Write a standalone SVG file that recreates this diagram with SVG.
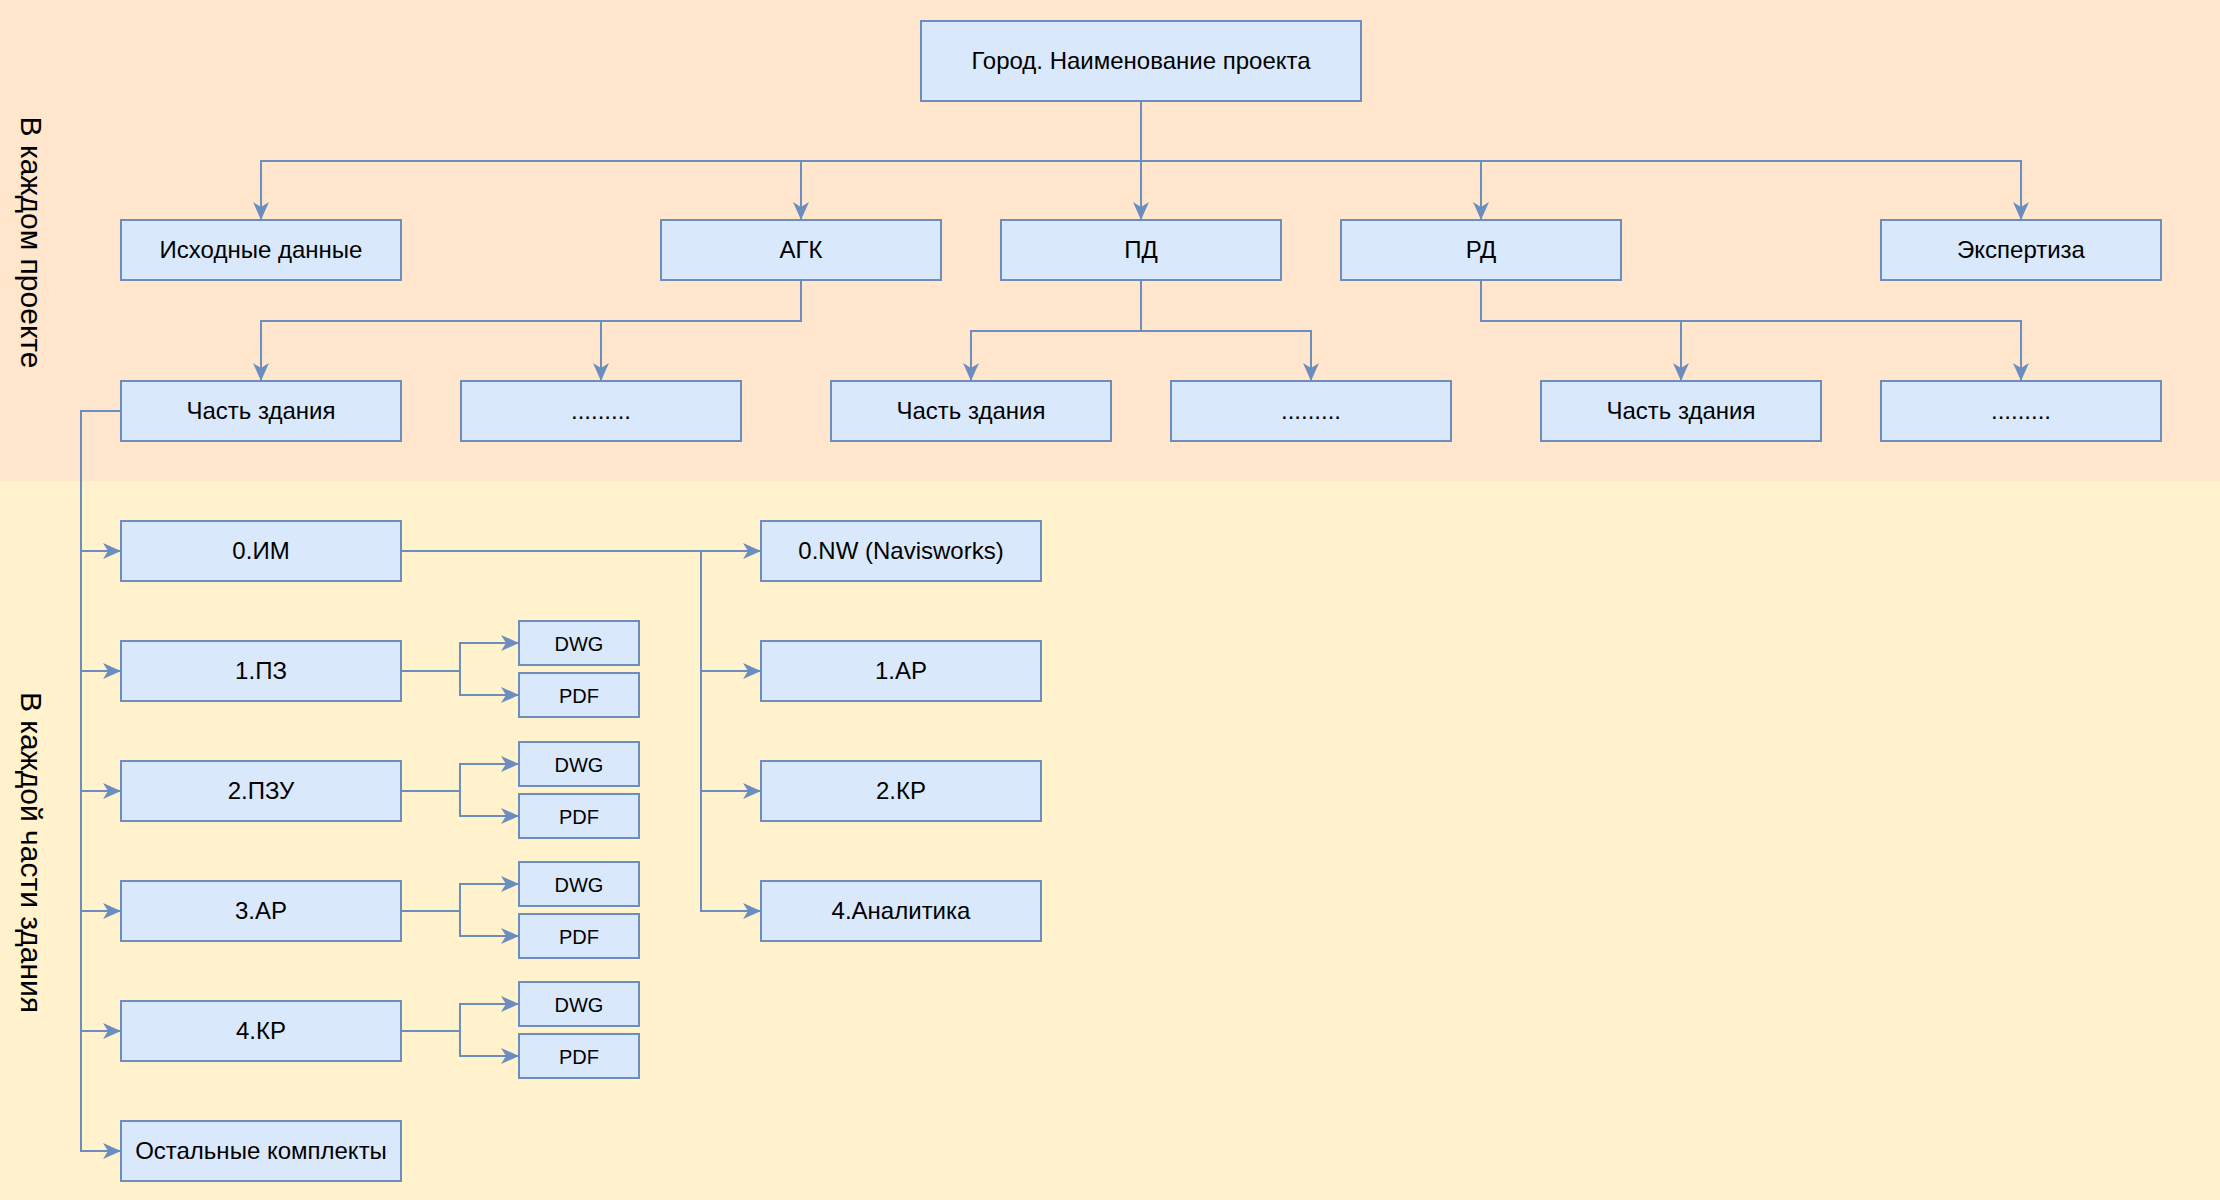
<svg xmlns="http://www.w3.org/2000/svg" width="2220" height="1200" viewBox="0 0 2220 1200">
<style>
.box{fill:#DAE8FC;stroke:#6C8EBF;stroke-width:2}
.t{font-family:"Liberation Sans",Arial,sans-serif;font-size:24px;fill:#000;text-anchor:middle}
.s{font-family:"Liberation Sans",Arial,sans-serif;font-size:20px;fill:#000;text-anchor:middle}
.v{font-family:"Liberation Sans",Arial,sans-serif;font-size:30px;fill:#000;text-anchor:middle}
.c{fill:none;stroke:#6C8EBF;stroke-width:2;marker-end:url(#arr)}
</style>
<defs>
<marker id="arr" markerUnits="userSpaceOnUse" markerWidth="22" markerHeight="20" viewBox="-20 -10 22 20" refX="0" refY="0" orient="auto" overflow="visible">
<path d="M1,0 L-17,-8 L-12,0 L-17,8 Z" fill="#6C8EBF"/>
</marker>
</defs>
<g id="background">
<rect x="0" y="0" width="2220" height="481" fill="#FFE6CC"/>
<rect x="0" y="481" width="2220" height="719" fill="#FFF2CC"/>
<text class="v" transform="translate(21,242.5) rotate(90)">В каждом проекте</text>
<text class="v" transform="translate(21,852.5) rotate(90)">В каждой части здания</text>
</g>
<g id="connectors">
<path class="c" d="M1141,101 V161 H261 V219"/>
<path class="c" d="M1141,101 V161 H801 V219"/>
<path class="c" d="M1141,101 V219"/>
<path class="c" d="M1141,101 V161 H1481 V219"/>
<path class="c" d="M1141,101 V161 H2021 V219"/>
<path class="c" d="M801,281 V321 H261 V380"/>
<path class="c" d="M801,281 V321 H601 V380"/>
<path class="c" d="M1141,281 V331 H971 V380"/>
<path class="c" d="M1141,281 V331 H1311 V380"/>
<path class="c" d="M1481,281 V321 H1681 V380"/>
<path class="c" d="M1481,281 V321 H2021 V380"/>
<path class="c" d="M121,411 H81 V551 H120"/>
<path class="c" d="M121,411 H81 V671 H120"/>
<path class="c" d="M121,411 H81 V791 H120"/>
<path class="c" d="M121,411 H81 V911 H120"/>
<path class="c" d="M121,411 H81 V1031 H120"/>
<path class="c" d="M121,411 H81 V1151 H120"/>
<path class="c" d="M401,551 H760"/>
<path class="c" d="M401,551 H701 V671 H760"/>
<path class="c" d="M401,551 H701 V791 H760"/>
<path class="c" d="M401,551 H701 V911 H760"/>
<path class="c" d="M401,671 H460 V643 H518"/>
<path class="c" d="M401,671 H460 V695 H518"/>
<path class="c" d="M401,791 H460 V764 H518"/>
<path class="c" d="M401,791 H460 V816 H518"/>
<path class="c" d="M401,911 H460 V884 H518"/>
<path class="c" d="M401,911 H460 V936 H518"/>
<path class="c" d="M401,1031 H460 V1004 H518"/>
<path class="c" d="M401,1031 H460 V1056 H518"/>
</g>
<g id="n_root"><rect class="box" x="921" y="21" width="440" height="80"/><text class="t" x="1141" y="69">Город. Наименование проекта</text></g>
<g id="n_ish"><rect class="box" x="121" y="220" width="280" height="60"/><text class="t" x="261" y="258">Исходные данные</text></g>
<g id="n_agk"><rect class="box" x="661" y="220" width="280" height="60"/><text class="t" x="801" y="258">АГК</text></g>
<g id="n_pd"><rect class="box" x="1001" y="220" width="280" height="60"/><text class="t" x="1141" y="258">ПД</text></g>
<g id="n_rd"><rect class="box" x="1341" y="220" width="280" height="60"/><text class="t" x="1481" y="258">РД</text></g>
<g id="n_exp"><rect class="box" x="1881" y="220" width="280" height="60"/><text class="t" x="2021" y="258">Экспертиза</text></g>
<g id="n_agk_part"><rect class="box" x="121" y="381" width="280" height="60"/><text class="t" x="261" y="419">Часть здания</text></g>
<g id="n_agk_more"><rect class="box" x="461" y="381" width="280" height="60"/><text class="t" x="601" y="419">.........</text></g>
<g id="n_pd_part"><rect class="box" x="831" y="381" width="280" height="60"/><text class="t" x="971" y="419">Часть здания</text></g>
<g id="n_pd_more"><rect class="box" x="1171" y="381" width="280" height="60"/><text class="t" x="1311" y="419">.........</text></g>
<g id="n_rd_part"><rect class="box" x="1541" y="381" width="280" height="60"/><text class="t" x="1681" y="419">Часть здания</text></g>
<g id="n_rd_more"><rect class="box" x="1881" y="381" width="280" height="60"/><text class="t" x="2021" y="419">.........</text></g>
<g id="n_im"><rect class="box" x="121" y="521" width="280" height="60"/><text class="t" x="261" y="559">0.ИМ</text></g>
<g id="n_pz"><rect class="box" x="121" y="641" width="280" height="60"/><text class="t" x="261" y="679">1.ПЗ</text></g>
<g id="n_pzu"><rect class="box" x="121" y="761" width="280" height="60"/><text class="t" x="261" y="799">2.ПЗУ</text></g>
<g id="n_ar3"><rect class="box" x="121" y="881" width="280" height="60"/><text class="t" x="261" y="919">3.АР</text></g>
<g id="n_kr4"><rect class="box" x="121" y="1001" width="280" height="60"/><text class="t" x="261" y="1039">4.КР</text></g>
<g id="n_rest"><rect class="box" x="121" y="1121" width="280" height="60"/><text class="t" x="261" y="1159">Остальные комплекты</text></g>
<g id="n_nw"><rect class="box" x="761" y="521" width="280" height="60"/><text class="t" x="901" y="559">0.NW (Navisworks)</text></g>
<g id="n_ar1"><rect class="box" x="761" y="641" width="280" height="60"/><text class="t" x="901" y="679">1.АР</text></g>
<g id="n_kr2"><rect class="box" x="761" y="761" width="280" height="60"/><text class="t" x="901" y="799">2.КР</text></g>
<g id="n_an"><rect class="box" x="761" y="881" width="280" height="60"/><text class="t" x="901" y="919">4.Аналитика</text></g>
<g id="n_dwg1"><rect class="box" x="519" y="621" width="120" height="44"/><text class="s" x="579" y="650.5">DWG</text></g>
<g id="n_pdf1"><rect class="box" x="519" y="673" width="120" height="44"/><text class="s" x="579" y="702.5">PDF</text></g>
<g id="n_dwg2"><rect class="box" x="519" y="742" width="120" height="44"/><text class="s" x="579" y="771.5">DWG</text></g>
<g id="n_pdf2"><rect class="box" x="519" y="794" width="120" height="44"/><text class="s" x="579" y="823.5">PDF</text></g>
<g id="n_dwg3"><rect class="box" x="519" y="862" width="120" height="44"/><text class="s" x="579" y="891.5">DWG</text></g>
<g id="n_pdf3"><rect class="box" x="519" y="914" width="120" height="44"/><text class="s" x="579" y="943.5">PDF</text></g>
<g id="n_dwg4"><rect class="box" x="519" y="982" width="120" height="44"/><text class="s" x="579" y="1011.5">DWG</text></g>
<g id="n_pdf4"><rect class="box" x="519" y="1034" width="120" height="44"/><text class="s" x="579" y="1063.5">PDF</text></g>
</svg>
